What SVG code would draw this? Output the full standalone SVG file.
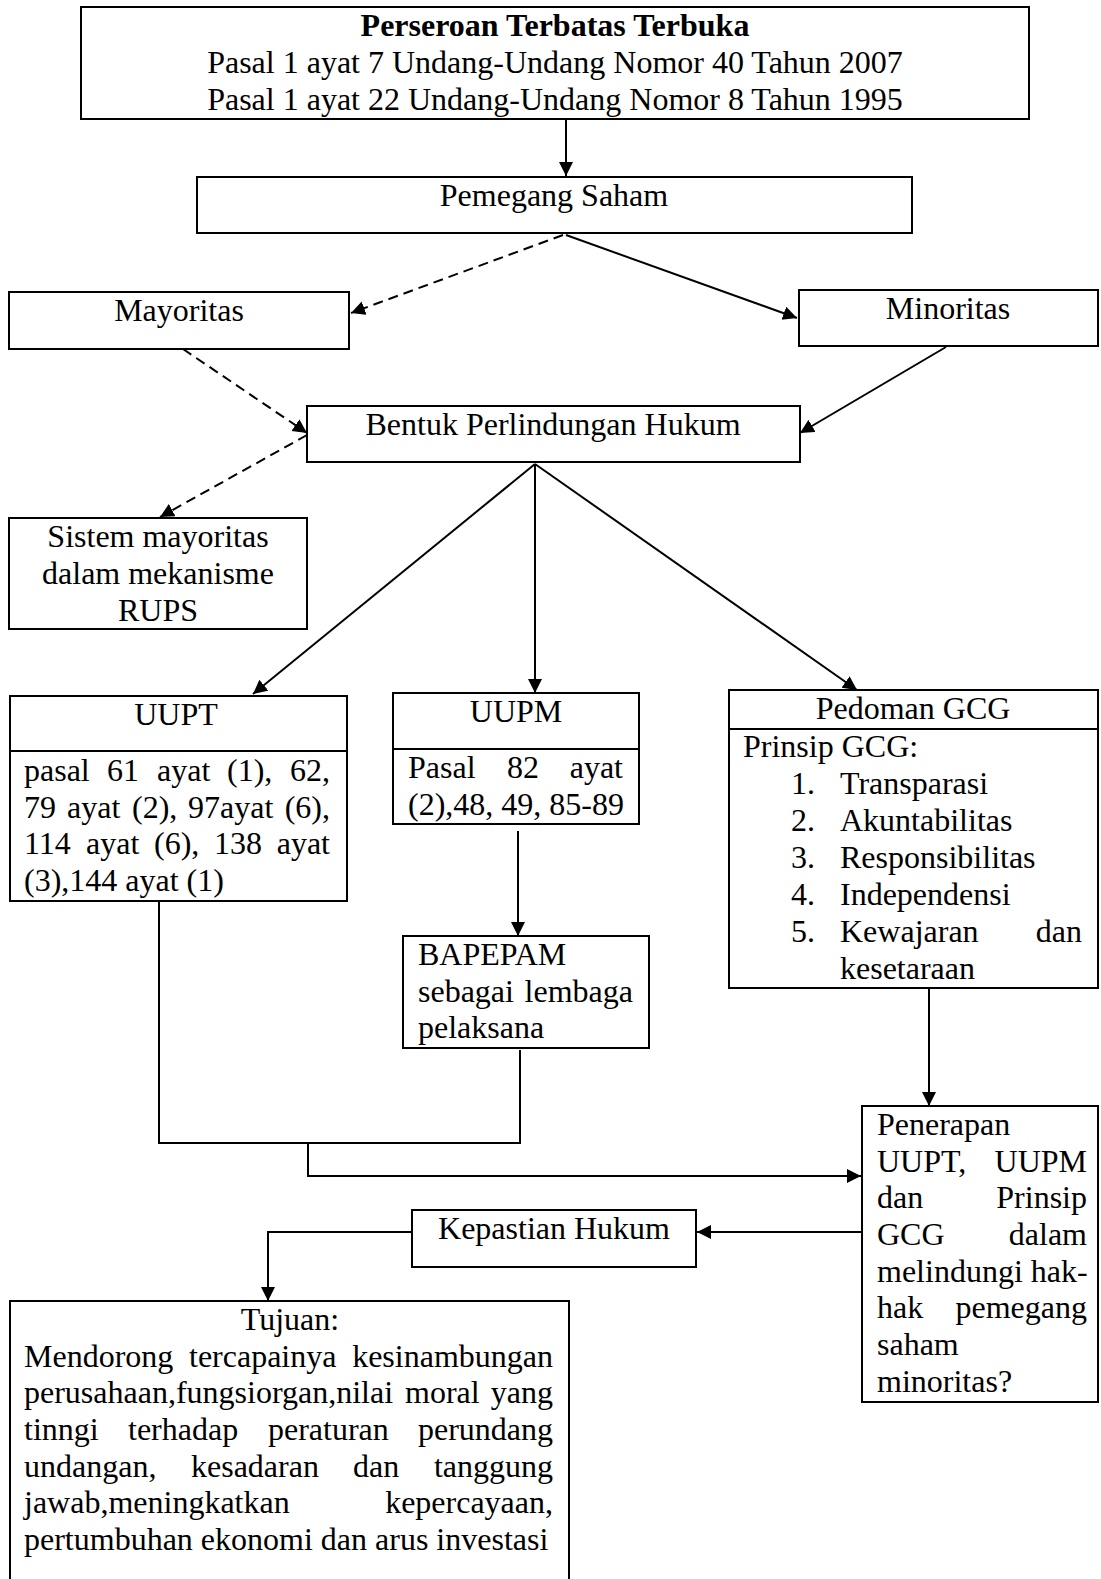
<svg xmlns="http://www.w3.org/2000/svg" width="1101" height="1579" viewBox="0 0 1101 1579">
<style>
text{font-family:"Liberation Serif","Times New Roman",serif;font-size:32px;fill:#000}
.b{font-weight:bold}
.c{text-anchor:middle}
.e{text-anchor:end}
.box{fill:#fff;stroke:#000;stroke-width:2}
.ln{fill:none;stroke:#000;stroke-width:2}
.ds{fill:none;stroke:#000;stroke-width:2;stroke-dasharray:10 6}
</style>
<defs>
<marker id="ah" markerUnits="userSpaceOnUse" markerWidth="15" markerHeight="15" refX="14" refY="7" orient="auto">
<path d="M0,0 L14,7 L0,14 z" fill="#000"/>
</marker>
</defs>
<rect x="0" y="0" width="1101" height="1579" fill="#fff"/>

<g id="connectors">
<line class="ln" x1="566" y1="119" x2="566" y2="176" marker-end="url(#ah)"/>
<line class="ds" x1="563" y1="235" x2="351" y2="313" marker-end="url(#ah)"/>
<line class="ln" x1="566" y1="235" x2="797" y2="318" marker-end="url(#ah)"/>
<line class="ds" x1="183" y1="349" x2="307" y2="433" marker-end="url(#ah)"/>
<line class="ln" x1="946" y1="347" x2="800" y2="433" marker-end="url(#ah)"/>
<line class="ds" x1="307" y1="435" x2="160" y2="517" marker-end="url(#ah)"/>
<line class="ln" x1="535" y1="464" x2="253" y2="694" marker-end="url(#ah)"/>
<line class="ln" x1="535" y1="464" x2="535" y2="693" marker-end="url(#ah)"/>
<line class="ln" x1="535" y1="464" x2="857" y2="690" marker-end="url(#ah)"/>
<line class="ln" x1="518" y1="831" x2="518" y2="936" marker-end="url(#ah)"/>
<polyline class="ln" points="159,902 159,1143 520,1143 520,1050"/>
<polyline class="ln" points="308,1143 308,1176 861,1176" marker-end="url(#ah)"/>
<line class="ln" x1="929" y1="988" x2="929" y2="1106" marker-end="url(#ah)"/>
<line class="ln" x1="862" y1="1232" x2="697" y2="1232" marker-end="url(#ah)"/>
<polyline class="ln" points="412,1232 268,1232 268,1301" marker-end="url(#ah)"/>
</g>

<g id="node-pt">
<rect class="box" x="81" y="7" width="948" height="112"/>
<text class="c b" x="555" y="36">Perseroan Terbatas Terbuka</text>
<text class="c" x="555" y="73">Pasal 1 ayat 7 Undang-Undang Nomor 40 Tahun 2007</text>
<text class="c" x="555" y="110">Pasal 1 ayat 22 Undang-Undang Nomor 8 Tahun 1995</text>
</g>

<g id="node-pemegang">
<rect class="box" x="197" y="177" width="715" height="56"/>
<text class="c" x="554" y="206">Pemegang Saham</text>
</g>

<g id="node-mayoritas">
<rect class="box" x="9" y="292" width="340" height="57"/>
<text class="c" x="179" y="321">Mayoritas</text>
</g>

<g id="node-minoritas">
<rect class="box" x="799" y="290" width="299" height="56"/>
<text class="c" x="948" y="319">Minoritas</text>
</g>

<g id="node-bentuk">
<rect class="box" x="307" y="406" width="493" height="56"/>
<text class="c" x="553" y="435">Bentuk Perlindungan Hukum</text>
</g>

<g id="node-sistem">
<rect class="box" x="9" y="518" width="298" height="111"/>
<text class="c" x="158" y="547">Sistem mayoritas</text>
<text class="c" x="158" y="584">dalam mekanisme</text>
<text class="c" x="158" y="621">RUPS</text>
</g>

<g id="node-uupt">
<rect class="box" x="10" y="696" width="337" height="205"/>
<line class="ln" x1="10" y1="751" x2="347" y2="751"/>
<text class="c" x="176" y="725">UUPT</text>
<text x="24" y="781">pasal</text><text x="107" y="781">61</text><text x="157" y="781">ayat</text><text x="227" y="781">(1),</text><text class="e" x="330" y="781">62,</text>
<text x="24" y="818">79</text><text x="67" y="818">ayat</text><text x="132" y="818">(2),</text><text x="188" y="818">97ayat</text><text class="e" x="330" y="818">(6),</text>
<text x="24" y="854">114</text><text x="86" y="854">ayat</text><text x="154" y="854">(6),</text><text x="214" y="854">138</text><text class="e" x="330" y="854">ayat</text>
<text x="24" y="891">(3),144 ayat (1)</text>
</g>

<g id="node-uupm">
<rect class="box" x="393" y="693" width="246" height="131"/>
<line class="ln" x1="393" y1="749" x2="639" y2="749"/>
<text class="c" x="516" y="722">UUPM</text>
<text x="408" y="778">Pasal</text><text x="507" y="778">82</text><text class="e" x="623" y="778">ayat</text>
<text x="408" y="815">(2),48, 49, 85-89</text>
</g>

<g id="node-bapepam">
<rect class="box" x="403" y="936" width="246" height="112"/>
<text x="418" y="965">BAPEPAM</text>
<text x="418" y="1002">sebagai</text><text class="e" x="633" y="1002">lembaga</text>
<text x="418" y="1038">pelaksana</text>
</g>

<g id="node-gcg">
<rect class="box" x="729" y="690" width="369" height="298"/>
<line class="ln" x1="729" y1="729" x2="1098" y2="729"/>
<text class="c" x="913" y="719">Pedoman GCG</text>
<text x="743" y="757">Prinsip GCG:</text>
<text x="791" y="794">1.</text><text x="840" y="794">Transparasi</text>
<text x="791" y="831">2.</text><text x="840" y="831">Akuntabilitas</text>
<text x="791" y="868">3.</text><text x="840" y="868">Responsibilitas</text>
<text x="791" y="905">4.</text><text x="840" y="905">Independensi</text>
<text x="791" y="942">5.</text><text x="840" y="942">Kewajaran</text><text class="e" x="1082" y="942">dan</text>
<text x="840" y="979">kesetaraan</text>
</g>

<g id="node-penerapan">
<rect class="box" x="862" y="1106" width="236" height="296"/>
<text x="877" y="1135">Penerapan</text>
<text x="877" y="1172">UUPT,</text><text class="e" x="1087" y="1172">UUPM</text>
<text x="877" y="1208">dan</text><text class="e" x="1087" y="1208">Prinsip</text>
<text x="877" y="1245">GCG</text><text class="e" x="1087" y="1245">dalam</text>
<text x="877" y="1282">melindungi hak-</text>
<text x="877" y="1318">hak</text><text class="e" x="1087" y="1318">pemegang</text>
<text x="877" y="1355">saham</text>
<text x="877" y="1392">minoritas?</text>
</g>

<g id="node-kepastian">
<rect class="box" x="412" y="1210" width="284" height="57"/>
<text class="c" x="554" y="1239">Kepastian Hukum</text>
</g>

<g id="node-tujuan">
<rect class="box" x="10" y="1301" width="559" height="290"/>
<text class="c" x="290" y="1330">Tujuan:</text>
<text x="24" y="1367">Mendorong</text><text x="189" y="1367">tercapainya</text><text class="e" x="553" y="1367">kesinambungan</text>
<text x="24" y="1403">perusahaan,fungsiorgan,nilai</text><text x="405" y="1403">moral</text><text class="e" x="553" y="1403">yang</text>
<text x="24" y="1440">tinngi</text><text x="128" y="1440">terhadap</text><text x="268" y="1440">peraturan</text><text class="e" x="553" y="1440">perundang</text>
<text x="24" y="1477">undangan,</text><text x="191" y="1477">kesadaran</text><text x="353" y="1477">dan</text><text class="e" x="553" y="1477">tanggung</text>
<text x="24" y="1513">jawab,meningkatkan</text><text class="e" x="553" y="1513">kepercayaan,</text>
<text x="24" y="1550">pertumbuhan ekonomi dan arus investasi</text>
</g>
</svg>
